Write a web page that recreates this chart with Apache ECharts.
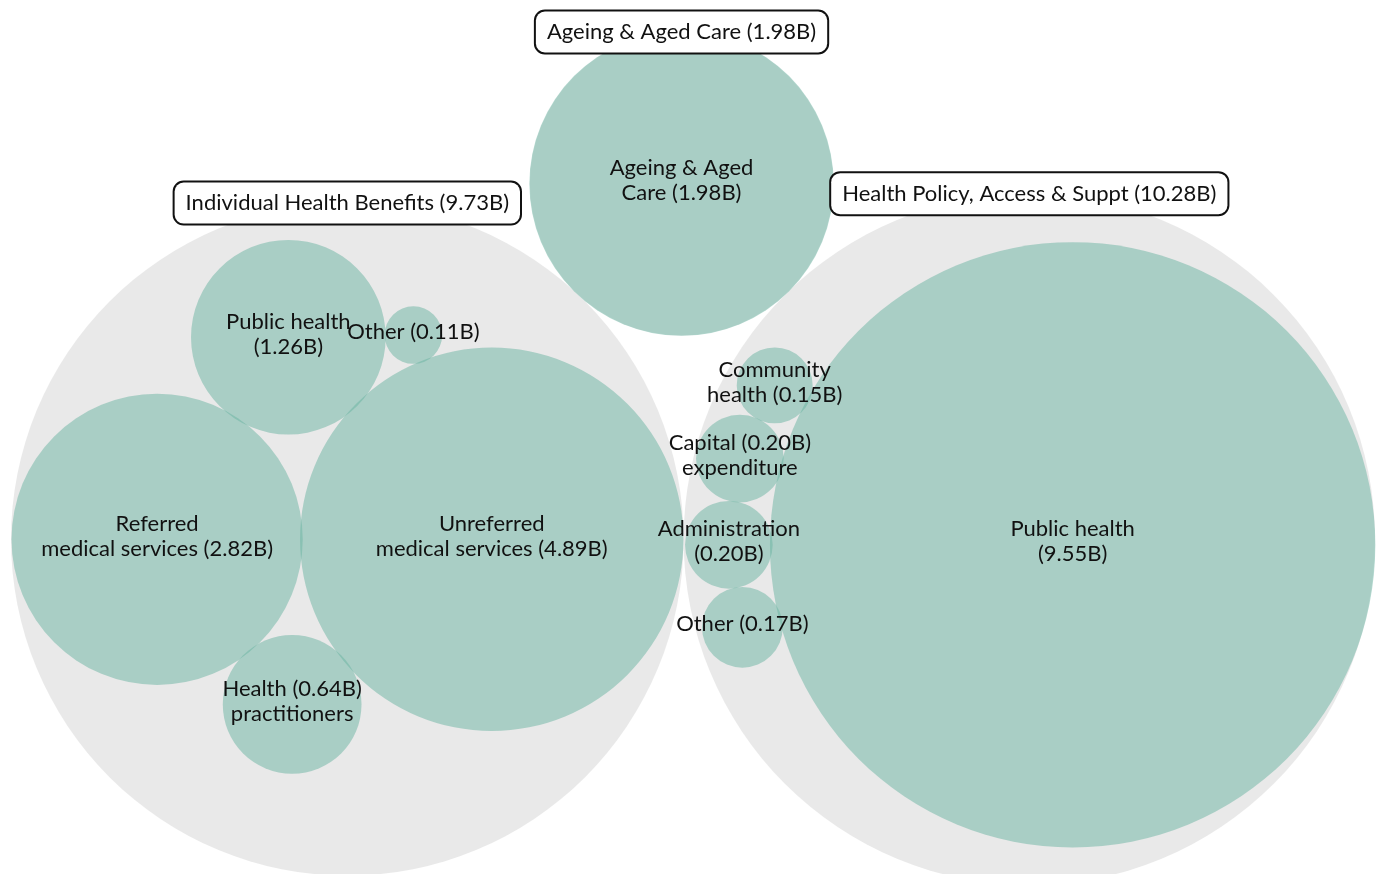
<!DOCTYPE html>
<html>
<head>
<meta charset="utf-8">
<script src="https://cdn.jsdelivr.net/npm/echarts@6/dist/echarts.min.js"></script>
<style>
html,body{margin:0;padding:0;background:#fff;}
#chart{width:1386px;height:874px;}
</style>
</head>
<body>
<div id="chart"></div>
<script>
// ---------------- DATA ----------------
const groupNames = ['Individual Health Benefits', 'Ageing & Aged Care', 'Health Policy, Access & Suppt'];
const groupTotals = [9.73, 1.98, 10.28];

const indNames = ['Unreferred medical services', 'Referred medical services', 'Public health', 'Health practitioners', 'Other'];
const indValues = [4.89, 2.82, 1.26, 0.64, 0.11];
const indLabels = ['Unreferred\nmedical services (4.89B)', 'Referred\nmedical services (2.82B)', 'Public health\n(1.26B)', 'Health (0.64B)\npractitioners', 'Other (0.11B)'];

const ageNames = ['Ageing & Aged Care'];
const ageValues = [1.98];
const ageLabels = ['Ageing & Aged\nCare (1.98B)'];

const hpNames = ['Public health', 'Administration', 'Capital expenditure', 'Other', 'Community health'];
const hpValues = [9.55, 0.20, 0.20, 0.17, 0.15];
const hpLabels = ['Public health\n(9.55B)', 'Administration\n(0.20B)', 'Capital (0.20B)\nexpenditure', 'Other (0.17B)', 'Community\nhealth (0.15B)'];

const groupChildren = [
  {names: indNames, values: indValues, labels: indLabels},
  {names: ageNames, values: ageValues, labels: ageLabels},
  {names: hpNames, values: hpValues, labels: hpLabels}
];

// ---------------- PACK LAYOUT (candidate-based circle packing) ----------------
function enc2(a, b) {
  const x21 = b.x - a.x, y21 = b.y - a.y, r21 = b.r - a.r, l = Math.sqrt(x21 * x21 + y21 * y21);
  return {x: (a.x + b.x + x21 / l * r21) / 2, y: (a.y + b.y + y21 / l * r21) / 2, r: (l + a.r + b.r) / 2};
}
function enc3(a, b, c) {
  const x1 = a.x, y1 = a.y, r1 = a.r, x2 = b.x, y2 = b.y, r2 = b.r, x3 = c.x, y3 = c.y, r3 = c.r;
  const a2 = x1 - x2, a3 = x1 - x3, b2 = y1 - y2, b3 = y1 - y3, c2 = r2 - r1, c3 = r3 - r1;
  const d1 = x1 * x1 + y1 * y1 - r1 * r1;
  const d2 = d1 - x2 * x2 - y2 * y2 + r2 * r2;
  const d3 = d1 - x3 * x3 - y3 * y3 + r3 * r3;
  const ab = a3 * b2 - a2 * b3;
  const xa = (b2 * d3 - b3 * d2) / (ab * 2) - x1, xb = (b3 * c2 - b2 * c3) / ab;
  const ya = (a3 * d2 - a2 * d3) / (ab * 2) - y1, yb = (a2 * c3 - a3 * c2) / ab;
  const A = xb * xb + yb * yb - 1, B = 2 * (r1 + xa * xb + ya * yb), C = xa * xa + ya * ya - r1 * r1;
  const r = -(Math.abs(A) > 1e-6 ? (B + Math.sqrt(B * B - 4 * A * C)) / (2 * A) : C / B);
  return {x: x1 + xa + xb * r, y: y1 + ya + yb * r, r: r};
}
function enclose(cs) {
  const cands = [];
  cs.forEach(a => cands.push({x: a.x, y: a.y, r: a.r}));
  for (let i = 0; i < cs.length; i++)
    for (let j = i + 1; j < cs.length; j++) {
      cands.push(enc2(cs[i], cs[j]));
      for (let k = j + 1; k < cs.length; k++) cands.push(enc3(cs[i], cs[j], cs[k]));
    }
  let best = null;
  cands.forEach(e => {
    if (!isFinite(e.x) || !isFinite(e.y) || !isFinite(e.r) || e.r <= 0) return;
    const ok = cs.every(c => {
      const dx = c.x - e.x, dy = c.y - e.y;
      return e.r - Math.sqrt(dx * dx + dy * dy) - c.r >= -1e-6 * Math.max(1, e.r);
    });
    if (ok && (!best || e.r < best.r)) best = e;
  });
  return best;
}
function tangentSpots(c1, c2, r) {
  const dx = c2.x - c1.x, dy = c2.y - c1.y, d = Math.sqrt(dx * dx + dy * dy);
  const d1 = c1.r + r, d2 = c2.r + r;
  if (d > d1 + d2 || d < Math.abs(d1 - d2)) return [];
  const a = (d1 * d1 - d2 * d2 + d * d) / (2 * d);
  const h = Math.sqrt(Math.max(0, d1 * d1 - a * a));
  const ux = dx / d, uy = dy / d, px = uy, py = -ux;
  const bx = c1.x + a * ux, by = c1.y + a * uy;
  return [{x: bx + h * px, y: by + h * py, r: r}, {x: bx - h * px, y: by - h * py, r: r}];
}
// circles must be sorted by radius, descending; radii set; fills x,y
function packCircles(circles) {
  const placed = [];
  circles.forEach((c, i) => {
    if (i === 0) { c.x = 0; c.y = 0; placed.push(c); return; }
    if (i === 1) { c.x = -(placed[0].r + c.r); c.y = 0; placed.push(c); return; }
    let wx = 0, wy = 0, w = 0;
    placed.forEach(p => { const m = p.r * p.r; wx += m * p.x; wy += m * p.y; w += m; });
    const bx = wx / w, by = wy / w;
    let best = null, bestD = Infinity;
    for (let m = 0; m < placed.length; m++)
      for (let n = m + 1; n < placed.length; n++) {
        tangentSpots(placed[m], placed[n], c.r).forEach(s => {
          const free = placed.every(p => {
            const ddx = p.x - s.x, ddy = p.y - s.y;
            return Math.sqrt(ddx * ddx + ddy * ddy) >= p.r + s.r - 1e-7;
          });
          if (!free) return;
          const dd = Math.hypot(s.x - bx, s.y - by);
          if (dd < bestD - 1e-12) { bestD = dd; best = s; }
        });
      }
    c.x = best.x; c.y = best.y; placed.push(c);
  });
  const e = enclose(circles);
  circles.forEach(c => { c.x -= e.x; c.y -= e.y; });
  return e.r;
}
function sortedIdx(vals) {
  return vals.map((v, i) => i).sort((p, q) => vals[q] - vals[p]);
}

// top level
const gCircles = sortedIdx(groupTotals).map(i => ({idx: i, r: Math.sqrt(groupTotals[i])}));
packCircles(gCircles);
const groups = [];
gCircles.forEach(c => groups[c.idx] = c);

// children, scaled into their parent circle
const FILL = 0.995;
const leaves = [];
groups.forEach((g, gi) => {
  const ch = groupChildren[gi];
  const cs = sortedIdx(ch.values).map(i => ({idx: i, r: Math.sqrt(ch.values[i])}));
  const er = packCircles(cs);
  const s = g.r * FILL / er;
  cs.forEach(c => {
    leaves.push({x: g.x + c.x * s, y: g.y + c.y * s, r: c.r * s, label: ch.labels[c.idx], name: ch.names[c.idx]});
  });
});

// view extents
const W = 1386, H = 874, SIDE = 11, TOP = 32;
let minX = Infinity, maxX = -Infinity, maxY = -Infinity;
groups.forEach(g => { minX = Math.min(minX, g.x - g.r); maxX = Math.max(maxX, g.x + g.r); maxY = Math.max(maxY, g.y + g.r); });
const K = (W - 2 * SIDE) / (maxX - minX);
const xMin = minX - SIDE / K, xMax = xMin + W / K;
const yMax = maxY + TOP / K, yMin = yMax - H / K;

const groupData = groups.map(g => [g.x, g.y, g.r]);
const leafData = leaves.map(l => [l.x, l.y, l.r]);
const FONT = '22px Lato, sans-serif';
const TEXT_DY = -3;

const chart = echarts.init(document.getElementById('chart'), null, {renderer: 'canvas'});
chart.setOption({
  animation: false,
  backgroundColor: '#ffffff',
  grid: {left: 0, right: 0, top: 0, bottom: 0, containLabel: false},
  xAxis: {type: 'value', min: xMin, max: xMax, show: false},
  yAxis: {type: 'value', min: yMin, max: yMax, show: false},
  series: [
    {
      type: 'custom', name: 'groups', z: 1, clip: false,
      data: groupData,
      renderItem: (params, api) => {
        const p = api.coord([api.value(0), api.value(1)]);
        const r = api.size([api.value(2), 0])[0];
        return {type: 'circle', shape: {cx: p[0], cy: p[1], r: r}, style: {fill: 'rgba(211,211,211,0.5)'}};
      }
    },
    {
      type: 'custom', name: 'leaves', z: 2, clip: false,
      data: leafData,
      renderItem: (params, api) => {
        const p = api.coord([api.value(0), api.value(1)]);
        const r = api.size([api.value(2), 0])[0] * 1.008;
        return {type: 'circle', shape: {cx: p[0], cy: p[1], r: r}, style: {fill: 'rgba(105,179,162,0.5)'}};
      }
    },
    {
      type: 'custom', name: 'leafLabels', z: 3, clip: false,
      data: leafData,
      renderItem: (params, api) => {
        const p = api.coord([api.value(0), api.value(1)]);
        return {type: 'text', style: {text: leaves[params.dataIndex].label, x: p[0], y: p[1] + TEXT_DY, align: 'center', verticalAlign: 'middle', font: FONT, fill: '#111', lineHeight: 25}};
      }
    },
    {
      type: 'custom', name: 'groupLabels', z: 4, clip: false,
      data: groupData,
      renderItem: (params, api) => {
        const i = params.dataIndex;
        const p = api.coord([api.value(0), api.value(1) + api.value(2)]);
        const txt = groupNames[i] + ' (' + groupTotals[i].toFixed(2) + 'B)';
        return {type: 'text', style: {text: txt, x: p[0], y: p[1], align: 'center', verticalAlign: 'middle', font: FONT, fill: '#111',
          backgroundColor: '#ffffff', borderColor: '#111', borderWidth: 2, borderRadius: 9, padding: [8, 11], lineHeight: 25}};
      }
    }
  ]
});
</script>
</body>
</html>
